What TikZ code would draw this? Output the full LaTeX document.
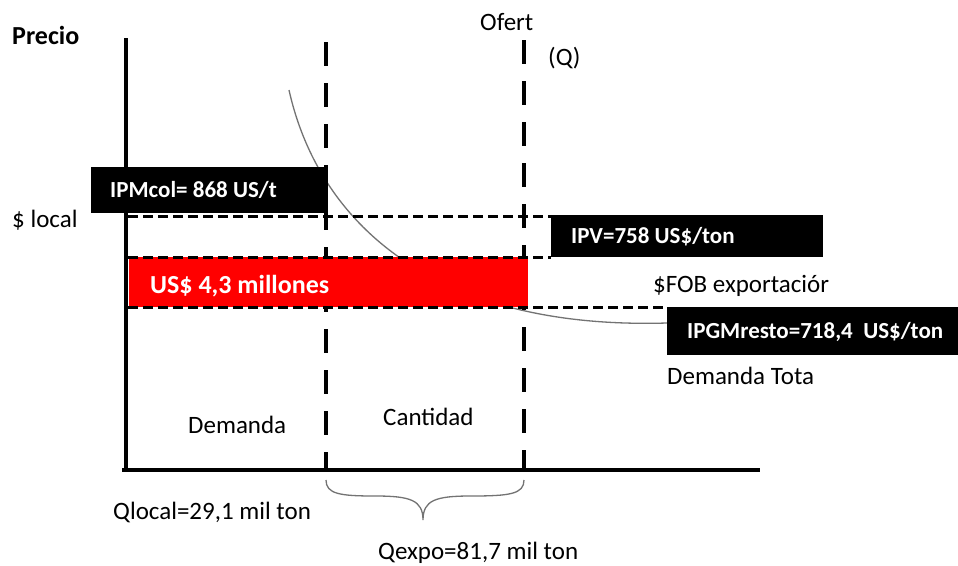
\documentclass[tikz,border=0pt]{standalone}
\usepackage{fontspec}
\setmainfont{Carlito}
\begin{document}
\begin{tikzpicture}[x=1pt,y=-1pt,
  lbl/.style={anchor=west,inner sep=0pt,font=\fontsize{25}{28}\selectfont},
  boxlbl/.style={anchor=west,inner sep=0pt,text=white,font=\bfseries\fontsize{23}{26}\selectfont},
  blackbox/.style={fill=black,draw=none,inner sep=0pt,anchor=north west},
  axisline/.style={line width=4pt},
  vdash/.style={line width=4.5pt,dash pattern=on 24pt off 17pt},
  hdash/.style={line width=3pt,dash pattern=on 10pt off 5pt},
  curveline/.style={draw=black!55,line width=1.3pt}]
\useasboundingbox (0,0) rectangle (958,565);
\fill[white] (0,0) rectangle (958,565);
% coordinates
\coordinate (ytop) at (126,38);
\coordinate (orig) at (126,470);
\coordinate (xend) at (760,470);
\coordinate (qltop) at (326,42);
\coordinate (qlbot) at (326,470);
\coordinate (qetop) at (524,40);
\coordinate (qebot) at (524,470);
% demand curve
\draw[curveline] (289,90) .. controls (318,220) and (430,330) .. (667,323);
% vertical dashed lines
\draw[vdash] (qltop) -- (qlbot);
\draw[vdash] (qetop) -- (qebot);
% red area
\node[fill=red,inner sep=0pt,anchor=north west,minimum width=399pt,minimum height=50pt] (area) at (129,257) {};
% horizontal dashed lines
\draw[hdash] (128,216) -- (551,216);
\draw[hdash] (128,257) -- (551,257);
\draw[hdash] (128,307) -- (667,307);
% axes
\draw[axisline] (ytop) -- (126,472);
\draw[axisline] (122,470) -- (xend);
% black boxes
\node[blackbox,minimum width=237pt,minimum height=46pt] (ipmbox) at (91,167) {};
\node[blackbox,minimum width=272pt,minimum height=42pt] (ipvbox) at (551,215) {};
\node[blackbox,minimum width=291pt,minimum height=48pt] (ipgbox) at (667,307) {};
% box texts
\node[boxlbl] (ipm) at (110,190) {IPMcol= 868 US/t};
\node[boxlbl] (ipv) at (571,237) {IPV=758 US\$/ton};
\node[boxlbl] (ipg) at (687,332) {IPGMresto=718,4\ \ US\$/ton};
\node[boxlbl,font=\bfseries\fontsize{26}{28}\selectfont] (mill) at (150,286) {US\$ 4,3 millones};
% labels
\node[lbl,font=\bfseries\fontsize{26}{28}\selectfont] (precio) at (12,35) {Precio};
\node[lbl] (ofert) at (480,22) {Ofert};
\node[lbl] (q) at (548,58) {(Q)};
\node[lbl] (local) at (12,220) {\$ local};
\node[lbl] (fob) at (653,286) {\$FOB exportaciór};
\node[lbl] (dtot) at (667,376) {Demanda Tota};
\node[lbl] (dem) at (188,425) {Demanda};
\node[lbl] (cant) at (383,417) {Cantidad};
\node[lbl] (qlocal) at (113,512) {Qlocal=29,1 mil ton};
\node[lbl] (qexpo) at (378,553) {Qexpo=81,7 mil ton};
% brace
\draw[curveline] (326,480) .. controls (326,494) and (340,496) .. (375,496)
  .. controls (410,496) and (423,500) .. (423,520)
  .. controls (423,500) and (436,496) .. (471,496)
  .. controls (510,496) and (524,494) .. (524,480);
\end{tikzpicture}
\end{document}
